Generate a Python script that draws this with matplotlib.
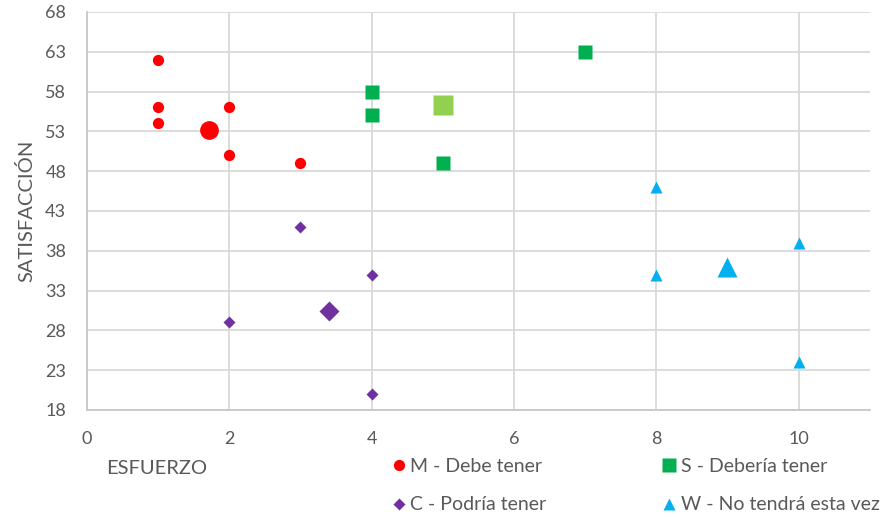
import matplotlib
matplotlib.use("Agg")
import matplotlib.pyplot as plt
from matplotlib.lines import Line2D

plt.rcParams['font.family'] = ['Lato', 'DejaVu Sans']

# esfuerzo / satisfaccion por categoria
m_x = [1, 1, 1, 2, 2, 3]
m_y = [62, 56, 54, 56, 50, 49]
s_x = [4, 4, 5, 7]
s_y = [58, 55, 49, 63]
c_x = [3, 4, 2, 4]
c_y = [41, 35, 29, 20]
w_x = [8, 8, 10, 10]
w_y = [46, 35, 39, 24]

# puntos promedio de cada grupo
m_avg = (1.72, 53.2)
s_avg = (5.0, 56.25)
c_avg = (3.4, 30.4)
w_avg = (9.0, 36.0)

labels = ['M - Debe tener', 'S - Debería tener', 'C - Podría tener', 'W - No tendrá esta vez']

red = '#FF0000'
green = '#00B050'
lgreen = '#92D050'
purple = '#7030A0'
blue = '#00B0F0'
txt = '#595959'
grid = '#D9D9D9'

fig = plt.figure(figsize=(8.92, 5.17), dpi=100)
ax = fig.add_axes([0.0975, 0.207, 0.8775, 0.770])

ax.plot(m_x, m_y, 'o', color=red, ms=8.1, mec='none', zorder=3)
ax.plot(s_x, s_y, 's', color=green, ms=9.4, mec='none', zorder=3)
ax.plot(c_x, c_y, 'D', color=purple, ms=6.3, mec='none', zorder=3)
ax.plot(w_x, w_y, '^', color=blue, ms=8.6, mec='none', zorder=3)

ax.plot(*m_avg, 'o', color=red, ms=13.5, mec='none', zorder=3)
ax.plot(*s_avg, 's', color=lgreen, ms=14.4, mec='none', zorder=3)
ax.plot(*c_avg, 'D', color=purple, ms=10.3, mec='none', zorder=3)
ax.plot(*w_avg, '^', color=blue, ms=13.7, mec='none', zorder=3)

ax.set_xlim(0, 11)
ax.set_ylim(18, 68)
ax.set_xticks(range(0, 11, 2))
ax.set_yticks(range(18, 69, 5))
ax.grid(True, color=grid, lw=1.3, zorder=0)
ax.set_axisbelow(True)

for side in ['top', 'right']:
    ax.spines[side].set_visible(False)
for side in ['left', 'bottom']:
    ax.spines[side].set_color('#C8C8C8')
    ax.spines[side].set_linewidth(1.3)

ax.tick_params(length=0, labelsize=13, labelcolor=txt, pad=15)
ax.tick_params(axis='y', pad=15)

ax.set_xlabel('ESFUERZO', fontsize=14.5, color=txt)
ax.xaxis.set_label_coords(0.089, -0.125)
ax.set_ylabel('SATISFACCIÓN', fontsize=14.5, color=txt)
ax.yaxis.set_label_coords(-0.066, 0.5)

handles = [
    Line2D([], [], ls='none', marker='o', color=red, ms=8.1, mec='none'),
    Line2D([], [], ls='none', marker='D', color=purple, ms=6.3, mec='none'),
    Line2D([], [], ls='none', marker='s', color=green, ms=9.4, mec='none'),
    Line2D([], [], ls='none', marker='^', color=blue, ms=8.6, mec='none'),
]
leg_labels = [labels[0], labels[2], labels[1], labels[3]]
fig.legend(handles, leg_labels, ncol=2, loc='upper left',
           bbox_to_anchor=(393 / 892, 1 - 458 / 517), frameon=False,
           fontsize=14, labelcolor=txt, handlelength=0.6, handletextpad=0.3,
           columnspacing=6.0, labelspacing=1.1, borderpad=0, borderaxespad=0)

fig.savefig('out.png', dpi=100)
